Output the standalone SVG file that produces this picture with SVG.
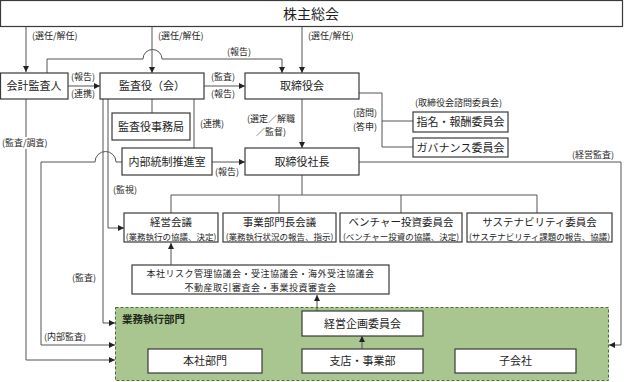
<svg xmlns="http://www.w3.org/2000/svg" width="624" height="382" viewBox="0 0 624 382">
<style>
text{font-family:"Noto Sans CJK JP","Liberation Sans",sans-serif;fill:#1e1e1e}
.box{fill:#fff;stroke:#3a3a3a;stroke-width:1.2}
.t{font-size:11px;text-anchor:middle}
.tt{font-size:10.5px;text-anchor:middle}
.s{font-size:8.5px;text-anchor:middle}
.r{font-size:9px;letter-spacing:0.5px;text-anchor:middle}
.l{font-size:9px}
.c{fill:none;stroke:#555;stroke-width:1}
.a{marker-end:url(#ah)}
</style>
<defs>
<marker id="ah" markerWidth="7" markerHeight="7" refX="6" refY="3" orient="auto" markerUnits="userSpaceOnUse">
<path d="M0,0 L6,3 L0,6 z" fill="#222"/>
</marker>
</defs>
<rect x="0" y="0" width="624" height="382" fill="#fff"/>

<g id="gyomu">
<rect x="115.5" y="307.5" width="493" height="73" fill="#a9c690" stroke="#4a6a3a" stroke-width="1" stroke-dasharray="3,2"/>
<text x="122" y="323" style="font-size:10.5px;font-weight:bold;fill:#1e2a18">業務執行部門</text>
</g>

<g id="connectors">
<path class="c a" d="M26,27 V72"/>
<path class="c a" d="M152,27 V73"/>
<path class="c a" d="M302,27 V73"/>
<path class="c a" d="M47,73 V59 H143 A9.5,9.5 0 0 1 162,59 H282 V73"/>
<path class="c a" d="M68,86 H100"/>
<path class="c a" d="M204,86 H245"/>
<path class="c a" d="M302,99 V148"/>
<path class="c" d="M359,93 H382 V147 H413 M382,121 H413"/>
<path class="c" d="M152,99 V113"/>
<path class="c" d="M194,99 V148"/>
<path class="c a" d="M212,162 H245"/>
<path class="c a" d="M359,162 H621 V345 H609"/>
<path class="c a" d="M108,99 V228 H124"/>
<path class="c a" d="M103,99 V323 H115"/>
<path class="c a" d="M122,162 H116 A10.5,10.5 0 0 0 95,162 H41 V345 H115"/>
<path class="c a" d="M26,99 V360 H115"/>
<path class="c" d="M302,175 V195 M171,195 H537 M171,195 V213 M279,195 V213 M401,195 V213 M537,195 V213"/>
<path class="c a" d="M171,265 V243"/>
<path class="c a" d="M317,311 V295"/>
<path class="c a" d="M362,349 V336"/>
</g>

<g id="labels">
<text class="l" x="32" y="39">(選任/解任)</text>
<text class="l" x="158" y="39">(選任/解任)</text>
<text class="l" x="308" y="39">(選任/解任)</text>
<text class="l" x="227" y="55">(報告)</text>
<text class="l" x="71" y="80">(報告)</text>
<text class="l" x="71" y="97">(連携)</text>
<text class="l" x="211" y="80">(監査)</text>
<text class="l" x="211" y="97">(報告)</text>
<text class="l" x="247" y="122">(選定／解職</text>
<text class="l" x="256" y="135">／監督)</text>
<text class="l" x="353" y="116">(諮問)</text>
<text class="l" x="353" y="130">(答申)</text>
<text class="l" x="415" y="106">(取締役会諮問委員会)</text>
<text class="l" x="200" y="127">(連携)</text>
<text class="l" x="215" y="175">(報告)</text>
<rect x="1" y="137" width="50" height="12" fill="#fff"/>
<text class="l" x="2" y="146">(監査/調査)</text>
<text class="l" x="113" y="193">(監視)</text>
<text class="l" x="72" y="281">(監査)</text>
<text class="l" x="44" y="340">(内部監査)</text>
<text class="l" x="572" y="158">(経営監査)</text>
</g>

<g id="kabunushi"><rect class="box" x="0.5" y="0.5" width="622" height="26"/><text x="311" y="19" style="font-size:14px;text-anchor:middle">株主総会</text></g>
<g id="kaikei"><rect class="box" x="0.5" y="73" width="67.5" height="26"/><text class="t" x="34" y="90">会計監査人</text></g>
<g id="kansayaku"><rect class="box" x="100" y="73" width="104" height="26"/><text class="t" x="152" y="90">監査役（会）</text></g>
<g id="torishimariyakukai"><rect class="box" x="245" y="73" width="114" height="26"/><text class="t" x="302" y="90">取締役会</text></g>
<g id="jimukyoku"><rect class="box" x="112" y="113" width="78" height="27"/><text class="t" x="151" y="130.5">監査役事務局</text></g>
<g id="naibu"><rect class="box" x="122" y="148" width="90" height="27"/><text class="t" x="167" y="165.5">内部統制推進室</text></g>
<g id="shacho"><rect class="box" x="245" y="148" width="114" height="27"/><text class="t" x="302" y="165.5">取締役社長</text></g>
<g id="shimei"><rect class="box" x="413" y="112" width="95" height="20"/><text class="t" x="460.5" y="126">指名・報酬委員会</text></g>
<g id="governance"><rect class="box" x="413" y="138" width="95" height="19"/><text class="t" x="460.5" y="151.5">ガバナンス委員会</text></g>
<g id="keiei"><rect class="box" x="124" y="213" width="94" height="29"/><text class="tt" x="171" y="226">経営会議</text><text class="s" x="171" y="239.5">(業務執行の協議、決定)</text></g>
<g id="jigyobumon"><rect class="box" x="223" y="213" width="113" height="29"/><text class="tt" x="279.5" y="226">事業部門長会議</text><text class="s" x="279.5" y="239.5">(業務執行状況の報告、指示)</text></g>
<g id="venture"><rect class="box" x="340" y="213" width="122" height="29"/><text class="tt" x="401" y="226">ベンチャー投資委員会</text><text class="s" x="401" y="239.5">(ベンチャー投資の協議、決定)</text></g>
<g id="sustain"><rect class="box" x="467" y="213" width="145" height="29"/><text class="tt" x="539.5" y="226">サステナビリティ委員会</text><text class="s" x="539.5" y="239.5">(サステナビリティ課題の報告、協議)</text></g>
<g id="risk"><rect class="box" x="132" y="265" width="257" height="29"/><text class="r" x="260.5" y="277">本社リスク管理協議会・受注協議会・海外受注協議会</text><text class="r" x="260.5" y="290.5">不動産取引審査会・事業投資審査会</text></g>
<g id="kikaku"><rect class="box" x="302" y="311" width="121" height="25"/><text class="t" x="362.5" y="327.5">経営企画委員会</text></g>
<g id="honsha"><rect class="box" x="148" y="349" width="114" height="24"/><text class="t" x="205" y="365">本社部門</text></g>
<g id="shiten"><rect class="box" x="302" y="349" width="121" height="24"/><text class="t" x="362.5" y="365">支店・事業部</text></g>
<g id="kogaisha"><rect class="box" x="455" y="349" width="121" height="24"/><text class="t" x="515.5" y="365">子会社</text></g>
</svg>
